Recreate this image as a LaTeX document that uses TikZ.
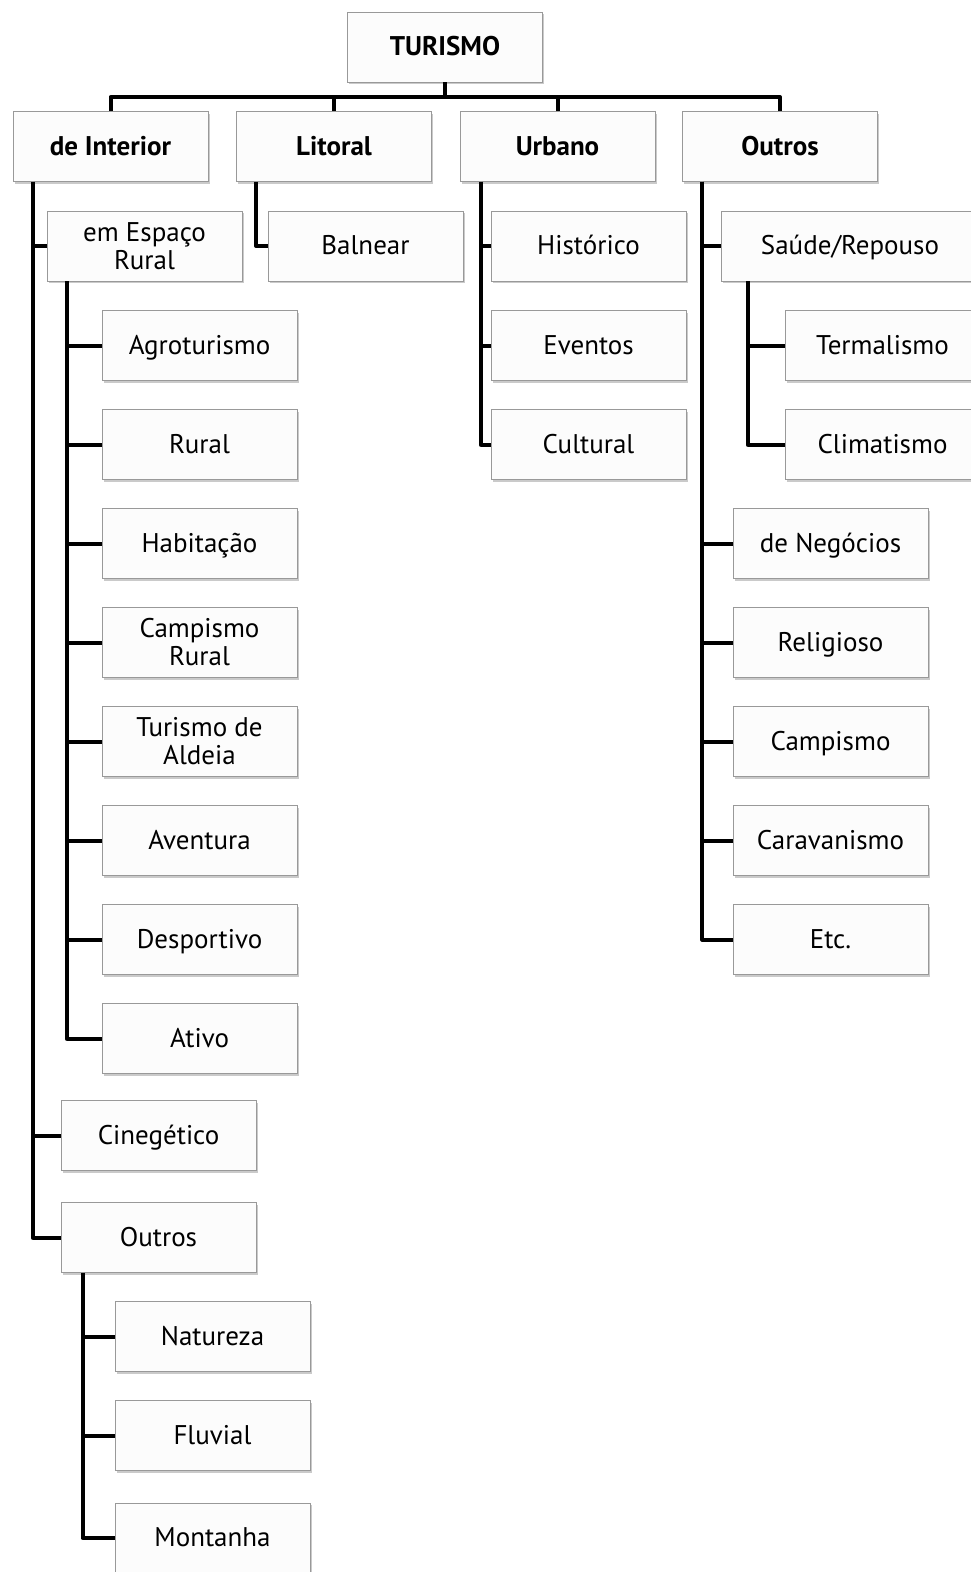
\documentclass[tikz,border=0pt]{standalone}
\usepackage{fontspec}
\setmainfont{PT Sans}
\usetikzlibrary{shadows}
\begin{document}
\begin{tikzpicture}[x=1pt,y=-1pt,
  mbox/.style={draw=black!40, line width=0.8pt, fill=black!1, minimum width=195pt, minimum height=70pt,
    inner sep=0pt, align=center, font=\fontsize{27}{28}\selectfont,
    drop shadow={shadow xshift=1.5pt, shadow yshift=-2pt, opacity=0.35, fill=black!60}},
  box/.style={mbox, text height=19pt, text depth=2pt},
  hbox/.style={box, font=\bfseries\fontsize{27}{28}\selectfont},
  wbox/.style={box, minimum width=258pt},
  conn/.style={line width=4pt, line join=round, line cap=butt}]
\useasboundingbox (0,0) rectangle (971,1572);
% level 0
\node[hbox] (tur) at (445,47) {TURISMO};
% level 1
\node[hbox] (int) at (110.5,146.5) {de Interior};
\node[hbox] (lit) at (334,146.5) {Litoral};
\node[hbox] (urb) at (557.5,146.5) {Urbano};
\node[hbox] (out) at (780,146.5) {Outros};
% de Interior
\node[mbox] (esp) at (144.5,246) {em Espaço\\Rural};
\node[box] (agro) at (199.5,345.5) {Agroturismo};
\node[box] (rur) at (199.5,444.5) {Rural};
\node[box] (hab) at (199.5,543.5) {Habitação};
\node[mbox] (camr) at (199.5,642.5) {Campismo\\Rural};
\node[mbox] (ald) at (199.5,741.5) {Turismo de\\Aldeia};
\node[box] (ave) at (199.5,840.5) {Aventura};
\node[box] (des) at (199.5,939.5) {Desportivo};
\node[box] (ati) at (199.5,1038.5) {Ativo};
\node[box] (cin) at (158.5,1135.5) {Cinegético};
\node[box] (out2) at (158.5,1237.5) {Outros};
\node[box] (nat) at (212.5,1336.5) {Natureza};
\node[box] (flu) at (212.5,1435.5) {Fluvial};
\node[box] (mon) at (212.5,1538) {Montanha};
% Litoral
\node[box] (bal) at (365.5,246) {Balnear};
% Urbano
\node[box] (his) at (588.5,246) {Histórico};
\node[box] (eve) at (588.5,345.5) {Eventos};
\node[box] (cul) at (588.5,444.5) {Cultural};
% Outros
\node[wbox] (sau) at (850,246) {Saúde/Repouso};
\node[box] (ter) at (882.5,345.5) {Termalismo};
\node[box] (cli) at (882.5,444.5) {Climatismo};
\node[box] (neg) at (830.5,543.5) {de Negócios};
\node[box] (rel) at (830.5,642.5) {Religioso};
\node[box] (cam) at (830.5,741.5) {Campismo};
\node[box] (car) at (830.5,840.5) {Caravanismo};
\node[box] (etc) at (830.5,939.5) {Etc.};
% connectors level 1
\coordinate (bus) at (445,97);
\draw[conn] (tur.south) -- (bus);
\draw[conn] (int.north) |- (bus);
\draw[conn] (out.north) |- (bus);
\draw[conn] (lit.north) -- (lit.north |- bus);
\draw[conn] (urb.north) -- (urb.north |- bus);
% de Interior
\foreach \c in {esp,cin,out2} \draw[conn] ([xshift=20pt]int.south west) |- (\c.west);
\foreach \c in {agro,rur,hab,camr,ald,ave,des,ati} \draw[conn] ([xshift=20pt]esp.south west) |- (\c.west);
\foreach \c in {nat,flu,mon} \draw[conn] ([xshift=22pt]out2.south west) |- (\c.west);
% Litoral
\draw[conn] ([xshift=20pt]lit.south west) |- (bal.west);
% Urbano
\foreach \c in {his,eve,cul} \draw[conn] ([xshift=21pt]urb.south west) |- (\c.west);
% Outros
\foreach \c in {sau,neg,rel,cam,car,etc} \draw[conn] ([xshift=20pt]out.south west) |- (\c.west);
\foreach \c in {ter,cli} \draw[conn] ([xshift=27pt]sau.south west) |- (\c.west);
\end{tikzpicture}
\end{document}
